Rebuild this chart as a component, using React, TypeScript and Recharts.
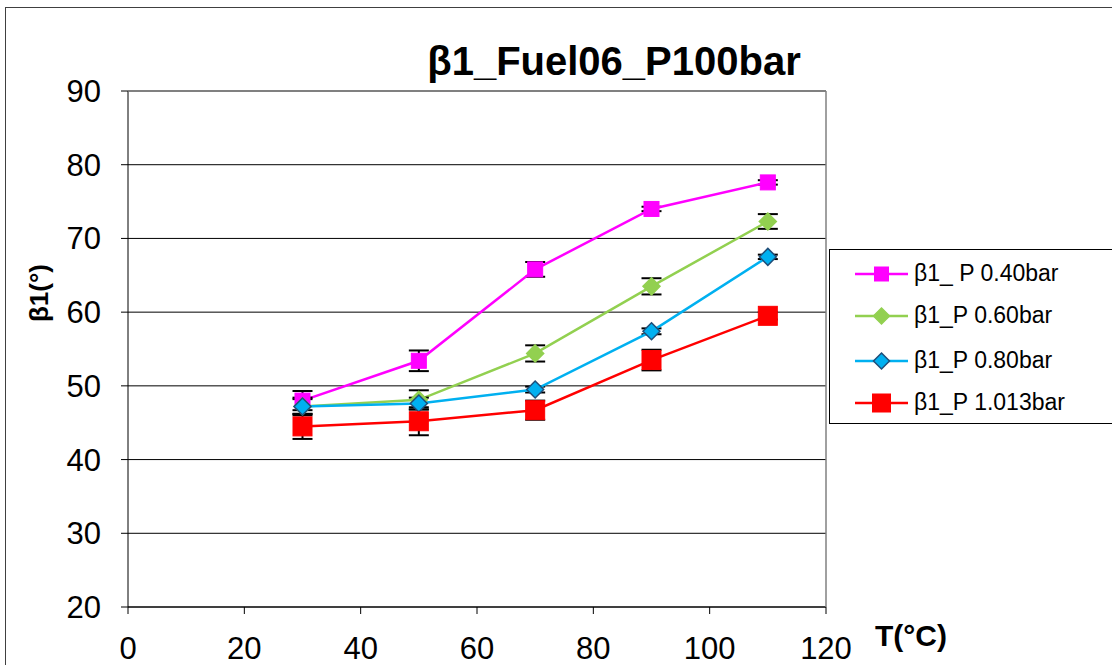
import React from 'react';
import { LineChart, Line, XAxis, YAxis, CartesianGrid, ErrorBar } from 'recharts';

const temps = [30, 50, 70, 90, 110];
const p040 = [48.0, 53.4, 65.8, 74.0, 77.6];
const p040Err = [1.3, 1.4, 1.0, 0.3, 0.3];
const p060 = [47.2, 48.1, 54.4, 63.5, 72.3];
const p060Err = [1.2, 1.3, 1.1, 1.1, 1.0];
const p080 = [47.2, 47.6, 49.5, 57.4, 67.5];
const p080Err = [1.0, 0.8, 0.4, 0.4, 0.3];
const p1013 = [44.5, 45.2, 46.7, 53.5, 59.5];
const p1013Err = [1.7, 1.9, 1.3, 1.4, 0.5];

const xTicks = [0, 20, 40, 60, 80, 100, 120];
const yTicks = [20, 30, 40, 50, 60, 70, 80, 90];

const seriesNames = ['β1_ P 0.40bar', 'β1_P 0.60bar', 'β1_P 0.80bar', 'β1_P 1.013bar'];

const data = temps.map((t, i) => ({
  T: t,
  a: p040[i], aE: p040Err[i],
  b: p060[i], bE: p060Err[i],
  c: p080[i], cE: p080Err[i],
  d: p1013[i], dE: p1013Err[i],
}));

const FONT = '"Liberation Sans", Arial, sans-serif';

type Shape = 'square' | 'diamond';
const styles = [
  { key: 'a', color: '#FF00FF', shape: 'square' as Shape, size: 15, stroke: '#FF00FF' },
  { key: 'b', color: '#92D050', shape: 'diamond' as Shape, size: 17, stroke: '#92D050' },
  { key: 'c', color: '#00B0F0', shape: 'diamond' as Shape, size: 17, stroke: '#1F4E79' },
  { key: 'd', color: '#FF0000', shape: 'square' as Shape, size: 19, stroke: '#FF0000' },
];

const Marker = ({ cx, cy, shape, size, fill, stroke }: any) => {
  if (cx == null || cy == null) return null;
  const h = size / 2;
  if (shape === 'square') {
    return <rect x={cx - h} y={cy - h} width={size} height={size} fill={fill} stroke={stroke} strokeWidth={1} />;
  }
  return (
    <polygon
      points={`${cx},${cy - h} ${cx + h},${cy} ${cx},${cy + h} ${cx - h},${cy}`}
      fill={fill}
      stroke={stroke}
      strokeWidth={1.5}
    />
  );
};

const rowCenters = [24, 66, 111, 153];

const LegendBox = () => (
  <div
    style={{
      position: 'absolute',
      left: 829,
      top: 249,
      width: 300,
      height: 175,
      border: '1px solid #000',
      background: '#fff',
      boxSizing: 'border-box',
      fontFamily: FONT,
    }}
  >
    {styles.map((s, i) => (
      <div key={s.key} style={{ position: 'absolute', left: 0, top: rowCenters[i] - 15, height: 30, width: 300 }}>
        <svg width={80} height={30} style={{ position: 'absolute', left: 0, top: 0 }}>
          <line x1={25} y1={15} x2={78} y2={15} stroke={s.color} strokeWidth={2.5} />
          <Marker cx={51.5} cy={15} shape={s.shape} size={s.size - 1} fill={s.color} stroke={s.stroke} />
        </svg>
        <span style={{ position: 'absolute', left: 84, top: 1, fontSize: 23, lineHeight: '27px', color: '#000', whiteSpace: 'nowrap' }}>
          {seriesNames[i]}
        </span>
      </div>
    ))}
  </div>
);

export default function App() {
  return (
    <div style={{ position: 'absolute', left: 0, top: 0, width: 1112, height: 665, overflow: 'hidden', background: '#fff' }}>
      <div
        style={{
          position: 'absolute',
          left: 5,
          top: 7,
          width: 1200,
          height: 700,
          borderLeft: '1.5px solid #404040',
          borderTop: '1.5px solid #404040',
        }}
      />
      <div
        style={{
          position: 'absolute',
          left: 314,
          top: 41,
          width: 600,
          textAlign: 'center',
          fontFamily: FONT,
          fontWeight: 'bold',
          fontSize: 40,
          lineHeight: '40px',
          color: '#000',
        }}
      >
        β1_Fuel06_P100bar
      </div>
      <div
        style={{
          position: 'absolute',
          left: 39,
          top: 293,
          transform: 'translate(-50%, -50%) rotate(-90deg)',
          fontFamily: FONT,
          fontWeight: 'bold',
          fontSize: 26,
          lineHeight: '28px',
          whiteSpace: 'nowrap',
          color: '#000',
        }}
      >
        β1(°)
      </div>
      <div
        style={{
          position: 'absolute',
          left: 875,
          top: 621,
          fontFamily: FONT,
          fontWeight: 'bold',
          fontSize: 30,
          lineHeight: '30px',
          whiteSpace: 'nowrap',
          color: '#000',
        }}
      >
        T(°C)
      </div>
      <div style={{ position: 'absolute', left: 0, top: 0 }}>
        <LineChart width={1112} height={665} data={data} margin={{ top: 91, right: 286, bottom: 18, left: 68 }}>
          <CartesianGrid horizontal={true} vertical={false} stroke="#000" strokeWidth={1} />
          <XAxis
            dataKey="T"
            type="number"
            domain={[0, 120]}
            ticks={xTicks}
            interval={0}
            height={40}
            stroke="#000"
            tickSize={7}
            tickMargin={23}
            tick={{ fill: '#000', fontSize: 31, fontFamily: FONT }}
            axisLine={{ stroke: '#000', strokeWidth: 1 }}
          />
          <YAxis
            type="number"
            domain={[20, 90]}
            ticks={yTicks}
            interval={0}
            width={60}
            stroke="#000"
            tickSize={7}
            tickMargin={20}
            tick={{ fill: '#000', fontSize: 31, fontFamily: FONT }}
            axisLine={{ stroke: '#000', strokeWidth: 1 }}
          />
          {styles.map((s, i) => (
            <Line
              key={s.key}
              dataKey={s.key}
              name={seriesNames[i]}
              stroke={s.color}
              strokeWidth={2.5}
              isAnimationActive={false}
              dot={(p: any) => <Marker key={`${s.key}-${p.index}`} cx={p.cx} cy={p.cy} shape={s.shape} size={s.size} fill={s.color} stroke={s.stroke} />}
              activeDot={false}
            >
              <ErrorBar dataKey={`${s.key}E`} direction="y" width={10} stroke="#000" strokeWidth={2} isAnimationActive={false} />
            </Line>
          ))}
        </LineChart>
      </div>
      <svg style={{ position: 'absolute', left: 0, top: 0, pointerEvents: 'none' }} width={1112} height={665}>
        <line x1={128} y1={91} x2={826} y2={91} stroke="#808080" strokeWidth={1.5} />
        <line x1={826} y1={91} x2={826} y2={607} stroke="#808080" strokeWidth={1.5} />
      </svg>
      <LegendBox />
    </div>
  );
}
